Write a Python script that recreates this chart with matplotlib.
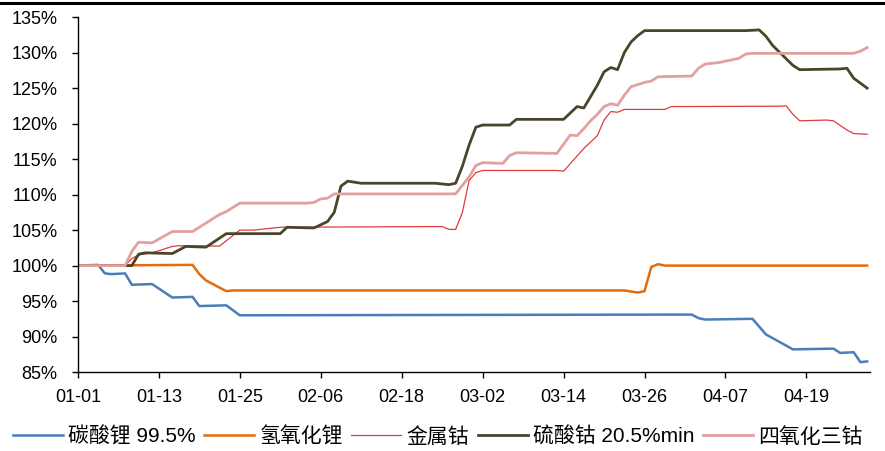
import pandas as pd
import matplotlib
matplotlib.use("Agg")
import matplotlib.pyplot as plt
import matplotlib.dates as mdates
from matplotlib.lines import Line2D
from matplotlib.ticker import FuncFormatter

plt.rcParams['font.family'] = ['Liberation Sans', 'Noto Sans CJK SC', 'DejaVu Sans']

YEAR = '2021-'

# 碳酸锂 99.5%
li2co3_dates = ['01-01', '01-04', '01-05', '01-06', '01-08', '01-09', '01-12', '01-15', '01-18',
                '01-19', '01-23', '01-25', '04-01', '04-02', '04-03', '04-04', '04-11', '04-13',
                '04-17', '04-23', '04-24', '04-26', '04-27', '04-28']
li2co3_vals = [100.0, 100.1, 98.9, 98.8, 98.9, 97.3, 97.4, 95.5, 95.6,
               94.3, 94.4, 93.0, 93.1, 93.1, 92.6, 92.4, 92.5, 90.3,
               88.2, 88.3, 87.7, 87.8, 86.4, 86.5]

# 氢氧化锂
lioh_dates = ['01-01', '01-18', '01-19', '01-20', '01-23', '01-24', '03-23', '03-25', '03-26',
              '03-27', '03-28', '03-29', '04-28']
lioh_vals = [100.0, 100.1, 98.8, 97.9, 96.4, 96.5, 96.5, 96.2, 96.4,
             99.8, 100.2, 100.0, 100.0]

# 金属钴
co_dates = ['01-01', '01-08', '01-09', '01-10', '01-12', '01-15', '01-16', '01-22', '01-25',
            '01-27', '01-31', '02-24', '02-25', '02-26', '02-27', '02-28', '03-01', '03-02',
            '03-13', '03-14', '03-17', '03-19', '03-20', '03-21', '03-22', '03-23', '03-29',
            '03-30', '04-15', '04-16', '04-17', '04-18', '04-22', '04-23', '04-25', '04-26',
            '04-28']
co_vals = [100.0, 100.0, 101.0, 101.5, 101.8, 102.7, 102.8, 102.75, 105.0,
           105.0, 105.4, 105.5, 105.1, 105.1, 107.5, 112.0, 113.1, 113.4,
           113.4, 113.3, 116.5, 118.3, 120.5, 121.7, 121.6, 122.0, 122.0,
           122.4, 122.45, 122.5, 121.3, 120.4, 120.5, 120.4, 119.1, 118.6,
           118.5]

# 硫酸钴 20.5%min
coso4_dates = ['01-01', '01-09', '01-10', '01-11', '01-15', '01-17', '01-20', '01-23', '01-31',
               '02-01', '02-05', '02-07', '02-08', '02-09', '02-10', '02-12', '02-23', '02-25',
               '02-26', '02-27', '02-28', '03-01', '03-02', '03-06', '03-07', '03-14', '03-16',
               '03-17', '03-19', '03-20', '03-21', '03-22', '03-23', '03-24', '03-25', '03-26',
               '04-10', '04-12', '04-13', '04-14', '04-17', '04-18', '04-24', '04-25', '04-26',
               '04-28']
coso4_vals = [100.0, 100.0, 101.6, 101.8, 101.7, 102.7, 102.6, 104.5, 104.5,
              105.4, 105.3, 106.2, 107.5, 111.2, 111.9, 111.6, 111.6, 111.4,
              111.6, 114.0, 117.0, 119.5, 119.8, 119.8, 120.6, 120.6, 122.4,
              122.2, 125.4, 127.3, 127.9, 127.6, 130.0, 131.5, 132.4, 133.1,
              133.1, 133.2, 132.3, 131.0, 128.2, 127.6, 127.7, 127.8, 126.4,
              125.0]

# 四氧化三钴
co3o4_dates = ['01-01', '01-08', '01-09', '01-10', '01-12', '01-15', '01-18', '01-22', '01-23',
               '01-24', '01-25', '02-04', '02-05', '02-06', '02-07', '02-08', '02-26', '02-27',
               '02-28', '03-01', '03-02', '03-05', '03-06', '03-07', '03-13', '03-15', '03-16',
               '03-17', '03-18', '03-19', '03-20', '03-21', '03-22', '03-23', '03-24', '03-26',
               '03-27', '03-28', '04-02', '04-03', '04-04', '04-06', '04-09', '04-10', '04-11',
               '04-26', '04-27', '04-28']
co3o4_vals = [100.0, 100.0, 102.0, 103.3, 103.2, 104.8, 104.8, 107.2, 107.6,
              108.2, 108.8, 108.8, 108.9, 109.4, 109.5, 110.1, 110.1, 111.3,
              112.5, 114.1, 114.5, 114.4, 115.5, 115.9, 115.8, 118.4, 118.3,
              119.3, 120.4, 121.3, 122.4, 122.8, 122.6, 124.0, 125.2, 125.8,
              126.0, 126.6, 126.7, 127.8, 128.4, 128.6, 129.2, 129.8, 129.9,
              129.9, 130.2, 130.7]

series = [
    ('碳酸锂 99.5%', li2co3_dates, li2co3_vals, '#4a7ebb', 1.8),
    ('氢氧化锂', lioh_dates, lioh_vals, '#e46c0a', 1.8),
    ('金属钴', co_dates, co_vals, '#e03c3c', 0.9),
    ('硫酸钴 20.5%min', coso4_dates, coso4_vals, '#4a452a', 2.0),
    ('四氧化三钴', co3o4_dates, co3o4_vals, '#e3a0a0', 2.0),
]

fig = plt.figure(figsize=(8.85, 4.51), dpi=100)
ax = fig.add_axes([0.088, 0.175, 0.895, 0.787])

for name, dates, vals, color, lw in series:
    x = pd.to_datetime([YEAR + d for d in dates])
    ax.plot(x, vals, color=color, lw=lw, label=name, solid_joinstyle='round')

ax.set_ylim(85, 135)
ax.set_yticks(range(85, 136, 5))
ax.yaxis.set_major_formatter(FuncFormatter(lambda v, p: f'{v:.0f}%'))

ticks = pd.date_range(YEAR + '01-01', periods=10, freq='12D')
ax.set_xticks(ticks)
ax.xaxis.set_major_formatter(mdates.DateFormatter('%m-%d'))
ax.set_xlim(pd.Timestamp(YEAR + '01-01'), pd.Timestamp(YEAR + '04-28 10:00'))

for s in ['top', 'right']:
    ax.spines[s].set_visible(False)
for s in ['left', 'bottom']:
    ax.spines[s].set_linewidth(1.0)
ax.tick_params(axis='y', direction='out', length=4.5, width=1, labelsize=13, pad=10)
ax.tick_params(axis='x', direction='out', length=4.5, width=1, labelsize=13, pad=8)

fig.legend(loc='center left', bbox_to_anchor=(0.015, 0.032), ncol=5, frameon=False,
           fontsize=15, handlelength=2.4, handletextpad=0.25, columnspacing=0.4,
           borderaxespad=0, borderpad=0)

# heavy rule across the top edge
fig.add_artist(Line2D([0, 1], [0.993, 0.993], transform=fig.transFigure, color='black', lw=2.2))

fig.savefig('out.png', dpi=100)
